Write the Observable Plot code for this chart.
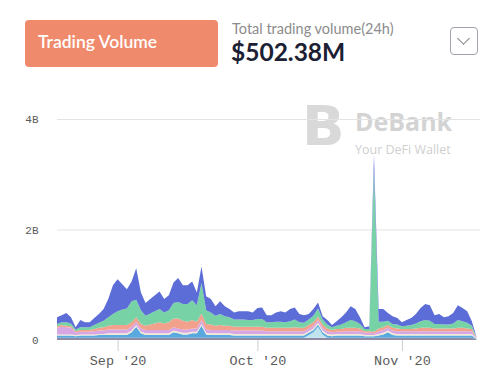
<!DOCTYPE html>
<html>
<head>
<meta charset="utf-8">
<script src="https://cdn.jsdelivr.net/npm/d3@7"></script>
<script src="https://cdn.jsdelivr.net/npm/@observablehq/plot@0.6"></script>
<style>
  html, body { margin: 0; padding: 0; background: #fff; }
  #wrap { position: relative; width: 504px; height: 372px; overflow: hidden; font-family: Lato, "Open Sans", sans-serif; }
  #header { position: absolute; left: 0; top: 0; width: 504px; height: 100px; }
  #btn { position: absolute; left: 25px; top: 20px; width: 193px; height: 47px; background: #f08a6c; border-radius: 4px; }
  #btn span { position: absolute; left: 13px; top: 11px; font-size: 17.5px; font-weight: 600; color: #fff; letter-spacing: 0; }
  #caret { position: absolute; left: 193px; top: 41px; width: 0; height: 0; border-left: 5px solid transparent; border-right: 5px solid transparent; border-top: 6px solid #fff; }
  #sub { position: absolute; left: 232px; top: 20px; font-size: 14.5px; color: #8c8c8c; }
  #big { position: absolute; left: 231px; top: 37px; font-size: 24.5px; font-weight: 700; color: #1c2033; }
  #dd { position: absolute; left: 450px; top: 27px; width: 26px; height: 26px; border: 1.5px solid #a0a3ab; border-radius: 4px; }
  #dd i { position: absolute; left: 8px; top: 6px; width: 8px; height: 8px; border-right: 1.5px solid #7d818c; border-bottom: 1.5px solid #7d818c; transform: rotate(45deg); }
  #wm { position: absolute; left: 300px; top: 106px; width: 170px; height: 50px; }
  #wm .logo { position: absolute; left: 2px; top: -8px; font-size: 56px; font-weight: 900; color: #d9d9d9; font-family: "DejaVu Sans", sans-serif; line-height: 1; }
  #wm .name { position: absolute; left: 55px; top: 3px; font-size: 25px; font-weight: 700; color: #d3d3d3; font-family: "Open Sans", sans-serif; line-height: 1; }
  #wm .tag { position: absolute; left: 55px; top: 38px; font-size: 12.5px; color: #cfcfcf; font-family: "Open Sans", sans-serif; line-height: 1; }
  #chart { position: absolute; left: 0; top: 100px; }
</style>
</head>
<body>
<div id="wrap">
  <div id="header">
    <div id="btn"><span>Trading Volume</span><div id="caret"></div></div>
    <div id="sub">Total trading volume(24h)</div>
    <div id="big">$502.38M</div>
    <div id="dd"><i></i></div>
  </div>
  <div id="wm"><div class="logo">B</div><div class="name">DeBank</div><div class="tag">Your DeFi Wallet</div></div>
  <div id="chart"></div>
</div>
<script>
// Daily trading volume (billions USD), Aug 19 2020 .. Nov 17 2020, stacked bottom -> top
const startDate = "2020-08-19";
const endDate = "2020-11-18";

const seriesNames = ["gray", "cyan", "sky", "cream", "lavender", "salmon", "green", "blue"];
const seriesColors = ["#8e8aa3", "#bfe4ee", "#5aa9de", "#f1ead6", "#d7a7e4", "#f2a28c", "#77d2a5", "#5c6dd7"];

const gray = [.04,.04,.04,.04,.04,.04,.04,.04,.04,.04, .04,.04,.04,.04,.04,.04,.04,.04,.04,.04,
  .04,.04,.04,.04,.04,.04,.04,.04,.04,.04, .04,.04,.04,.04,.04,.04,.04,.04,.04,.04,
  .04,.04,.04,.04,.04,.04,.04,.04,.04,.04, .04,.04,.04,.04,.04,.04,.04,.04,.04,.04,
  .04,.04,.04,.04,.04,.04,.04,.04,.04,.04, .04,.04,.04,.04,.04,.04,.04,.04,.04,.04,
  .04,.04,.04,.04,.04,.04,.04,.04,.04,.04, .01];
const cyan = [0,0,0,0,0,0,0,0,0,0, 0,0,0,0,0,0,0,0,0,0, 0,0,0,0,0,0,0,0,0,0, 0,0,0,0,0,0,0,0,0,0,
  0,0,0,0,0,0,0,0,0,0, 0,0,0,0,.05,.10,.20,.06,0,0, 0,0,0,0,0,0,0,0,0,0, 0,0,0,0,0,0,0,0,0,0,
  0,0,0,0,0,0,0,0,0,0, 0];
const sky = [.04,.04,.04,.04,.03,.04,.04,.04,.04,.05, .05,.05,.05,.05,.05,.05,.10,.20,.08,.05,
  .05,.05,.05,.05,.05,.10,.08,.06,.06,.08, .08,.22,.06,.05,.05,.05,.05,.05,.04,.04,
  .04,.04,.04,.04,.04,.04,.04,.04,.04,.04, .04,.04,.04,.04,.04,.04,.04,.04,.04,.03,
  .04,.04,.04,.04,.04,.04,.03,.03,.03,.04, .06,.10,.05,.04,.04,.04,.04,.04,.04,.04,
  .04,.04,.04,.04,.04,.04,.04,.04,.04,.04, .01];
const cream = [.02,.02,.02,.02,.02,.02,.02,.02,.02,.02, .02,.03,.03,.03,.03,.03,.03,.03,.03,.03,
  .03,.03,.03,.03,.03,.03,.03,.03,.03,.03, .03,.03,.03,.03,.03,.03,.03,.03,.03,.03,
  .03,.03,.03,.03,.03,.03,.03,.03,.03,.03, .03,.03,.03,.03,.03,.03,.03,.03,.03,.03,
  .03,.03,.03,.03,.03,.03,.02,.02,.02,.03, .03,.03,.03,.03,.03,.03,.03,.03,.03,.03,
  .03,.03,.03,.03,.03,.03,.03,.03,.03,.03, .005];
const lavender = [.12,.14,.13,.12,.05,.05,.05,.05,.06,.06, .06,.07,.07,.07,.07,.07,.07,.06,.06,.06,
  .06,.06,.06,.06,.06,.06,.06,.06,.06,.06, .06,.07,.06,.06,.06,.06,.06,.06,.06,.06,
  .06,.06,.06,.06,.06,.05,.05,.05,.05,.05, .05,.05,.05,.05,.05,.05,.05,.05,.05,.04,
  .04,.04,.05,.05,.05,.05,.04,.04,.03,.05, .05,.05,.05,.05,.05,.05,.05,.05,.05,.05,
  .05,.05,.05,.05,.05,.05,.05,.05,.05,.05, .01];
const salmon = [.03,.03,.03,.03,.02,.03,.03,.03,.04,.05, .06,.07,.08,.08,.08,.08,.08,.08,.08,.08,
  .10,.12,.14,.12,.14,.16,.18,.16,.14,.15, .12,.12,.10,.10,.08,.09,.08,.08,.07,.07,
  .07,.07,.07,.07,.07,.06,.06,.06,.06,.06, .06,.07,.06,.06,.06,.06,.06,.06,.05,.04,
  .05,.05,.06,.06,.06,.05,.03,.03,.03,.05, .05,.05,.05,.05,.04,.04,.04,.05,.06,.06,
  .06,.05,.05,.05,.05,.05,.06,.06,.05,.04, .005];
const green = [.04,.05,.06,.05,.03,.05,.05,.05,.07,.09, .12,.15,.20,.25,.28,.30,.38,.32,.25,.18,
  .20,.22,.24,.20,.22,.28,.30,.30,.32,.36, .30,.55,.25,.22,.18,.20,.17,.15,.13,.13,
  .13,.12,.12,.14,.14,.10,.10,.11,.11,.10, .12,.14,.10,.09,.10,.12,.15,.09,.07,.05,
  .06,.08,.10,.14,.12,.08,.04,.04,2.95,.12, .10,.08,.07,.07,.05,.06,.07,.09,.12,.14,
  .13,.08,.08,.07,.07,.09,.14,.12,.10,.06, .01];
const blue = [.12,.13,.17,.11,.04,.13,.09,.09,.13,.16, .21,.33,.52,.58,.46,.35,.36,.57,.32,.23,
  .26,.29,.32,.24,.27,.37,.43,.34,.34,.34, .23,.30,.25,.24,.17,.23,.18,.15,.13,.15,
  .15,.16,.14,.20,.21,.13,.13,.17,.19,.18, .22,.22,.15,.14,.10,.12,.11,.06,.08,.04,
  .08,.13,.18,.25,.22,.12,.03,.05,.25,.23, .23,.14,.14,.12,.07,.10,.13,.17,.24,.29,
  .28,.16,.18,.13,.15,.19,.27,.24,.21,.08, .005];

const yTicks = [0, 2, 4];
const yTickLabels = ["0", "2B", "4B"];
const xTicks = ["2020-09-01", "2020-10-01", "2020-11-01"];
const xTickLabels = ["Sep '20", "Oct '20", "Nov '20"];

const seriesValues = [gray, cyan, sky, cream, lavender, salmon, green, blue];
const dates = d3.utcDay.range(new Date(startDate), new Date(endDate));
const rows = seriesNames.flatMap((name, s) =>
  seriesValues[s].map((v, i) => ({date: dates[i], series: name, value: v})));

const xTickDates = xTicks.map(d => new Date(d));
const xDomainEnd = new Date(Date.UTC(2020, 10, 17, 18));

const chart = Plot.plot({
  width: 504,
  height: 272,
  marginLeft: 57,
  marginRight: 24,
  marginTop: 19,
  marginBottom: 32,
  style: {background: "transparent", fontFamily: "'Liberation Mono', monospace"},
  x: {type: "utc", domain: [dates[0], xDomainEnd], label: null},
  y: {domain: [0, 4], label: null},
  color: {domain: seriesNames, range: seriesColors},
  marks: [
    Plot.gridY(yTicks.filter(d => d > 0), {stroke: "#e3e3e3", strokeOpacity: 1, strokeWidth: 1}),
    Plot.areaY(rows, {x: "date", y: "value", z: "series", fill: "series", order: seriesNames, curve: "linear"}),
    Plot.axisY(yTicks, {tickSize: 0, tickPadding: 19, fontSize: 11, fill: "#5a5a5a", label: null,
      tickFormat: d => yTickLabels[yTicks.indexOf(d)]}),
    Plot.axisX(xTickDates, {tickSize: 11, tickPadding: 4, fontSize: 13.5, fill: "#5a5a5a", stroke: "#cfcfcf", label: null,
      tickFormat: d => xTickLabels[xTickDates.findIndex(t => +t === +d)]})
  ]
});
document.getElementById("chart").appendChild(chart);
</script>
</body>
</html>
